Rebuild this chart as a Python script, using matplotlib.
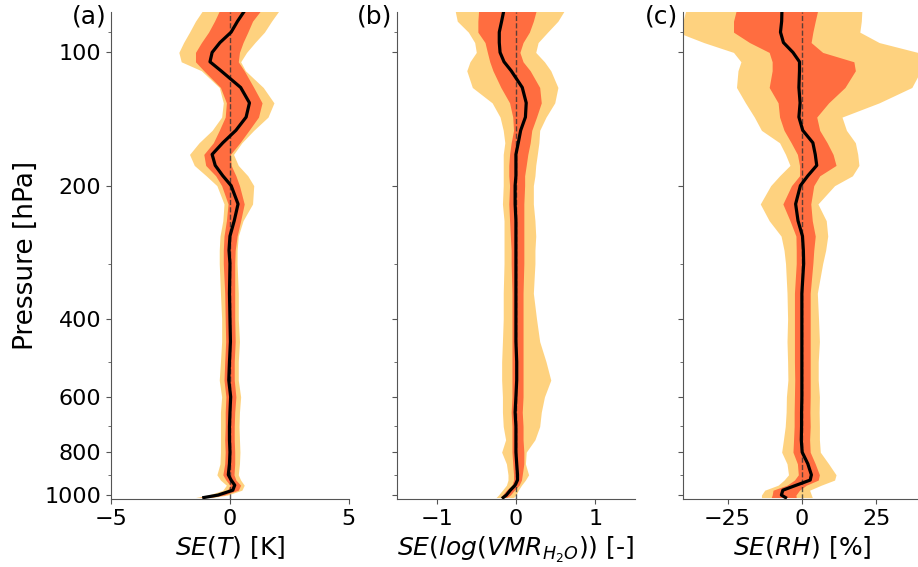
import numpy as np
import matplotlib
matplotlib.use('Agg')
import matplotlib.pyplot as plt
from matplotlib.ticker import NullFormatter

# pressure levels [hPa]
pressure = [80, 85, 90, 95, 100, 105, 110, 120, 130, 140,
            150, 160, 170, 180, 190, 200, 220, 240, 260, 280,
            300, 350, 400, 450, 500, 550, 600, 650, 700, 750,
            800, 850, 900, 925, 950, 975, 1000, 1013]

# (a) temperature [K]
t_mean = [0.65, 0.32, 0.05, -0.42, -0.75, -0.84, -0.38, 0.45, 0.82, 0.68,
          0.25, -0.30, -0.75, -0.62, -0.30, 0.05, 0.34, 0.18, 0.0, -0.04,
          0.0, -0.02, 0.0, 0.02, -0.02, -0.05, 0.03, 0.0, -0.02, -0.02,
          0.0, -0.02, -0.07, 0.05, 0.2, 0.12, -0.5, -1.1]
t_in_lo = [-0.42, -0.65, -0.9, -1.2, -1.45, -1.45, -1.1, -0.4, -0.15, -0.2,
           -0.45, -0.7, -1.1, -1.02, -0.6, -0.35, -0.08, -0.15, -0.25, -0.28,
           -0.28, -0.22, -0.2, -0.18, -0.22, -0.25, -0.17, -0.2, -0.2, -0.22,
           -0.2, -0.22, -0.3, -0.17, 0.0, -0.1, -0.7, -1.3]
t_in_hi = [1.33, 0.95, 0.75, 0.55, 0.4, 0.35, 0.6, 1.0, 1.35, 1.2,
           0.8, 0.42, 0.02, 0.05, 0.25, 0.4, 0.6, 0.45, 0.3, 0.22,
           0.2, 0.2, 0.2, 0.22, 0.18, 0.18, 0.25, 0.2, 0.18, 0.18,
           0.2, 0.2, 0.17, 0.25, 0.45, 0.35, -0.25, -0.9]
t_out_lo = [-1.12, -1.45, -1.7, -1.95, -2.15, -2.05, -1.2, -0.45, -0.28, -0.35,
            -0.75, -1.3, -1.7, -1.5, -1.0, -0.55, -0.25, -0.3, -0.42, -0.45,
            -0.45, -0.4, -0.35, -0.35, -0.4, -0.45, -0.35, -0.4, -0.4, -0.4,
            -0.4, -0.42, -0.55, -0.4, -0.15, -0.3, -0.9, -1.45]
t_out_hi = [2.1, 1.75, 1.45, 1.05, 0.7, 0.45, 0.65, 1.4, 1.85, 1.6,
            1.0, 0.5, 0.15, 0.35, 0.75, 1.0, 0.95, 0.55, 0.35, 0.3,
            0.3, 0.35, 0.35, 0.4, 0.35, 0.35, 0.45, 0.4, 0.38, 0.4,
            0.42, 0.4, 0.35, 0.45, 0.6, 0.5, -0.1, -0.75]

# (b) log water vapour VMR [-]
q_mean = [-0.15, -0.18, -0.21, -0.21, -0.2, -0.15, -0.06, 0.08, 0.13, 0.12,
          0.06, 0.03, 0.0, 0.0, 0.0, -0.01, -0.01, 0.0, 0.0, 0.0,
          0.0, 0.0, 0.0, 0.0, 0.01, 0.01, 0.0, -0.01, 0.0, 0.0,
          0.0, 0.01, 0.02, 0.02, -0.01, -0.07, -0.12, -0.16]
q_in_lo = [-0.47, -0.48, -0.48, -0.39, -0.36, -0.33, -0.29, -0.19, -0.08, -0.04,
           -0.03, -0.06, -0.08, -0.09, -0.09, -0.08, -0.09, -0.08, -0.07, -0.06,
           -0.06, -0.05, -0.05, -0.05, -0.05, -0.05, -0.05, -0.06, -0.05, -0.05,
           -0.05, -0.04, -0.03, -0.03, -0.05, -0.12, -0.17, -0.2]
q_in_hi = [0.26, 0.22, 0.17, 0.09, 0.05, 0.09, 0.18, 0.3, 0.32, 0.26,
           0.2, 0.18, 0.15, 0.13, 0.11, 0.11, 0.1, 0.1, 0.1, 0.1,
           0.1, 0.09, 0.09, 0.09, 0.09, 0.09, 0.09, 0.08, 0.09, 0.09,
           0.1, 0.1, 0.08, 0.07, 0.04, -0.02, -0.07, -0.12]
q_out_lo = [-0.77, -0.74, -0.6, -0.52, -0.5, -0.58, -0.62, -0.55, -0.3, -0.2,
            -0.16, -0.14, -0.16, -0.16, -0.16, -0.16, -0.17, -0.15, -0.15, -0.15,
            -0.15, -0.16, -0.16, -0.17, -0.18, -0.18, -0.17, -0.17, -0.16, -0.13,
            -0.18, -0.12, -0.1, -0.1, -0.12, -0.17, -0.22, -0.25]
q_out_hi = [0.62, 0.53, 0.4, 0.28, 0.25, 0.36, 0.44, 0.53, 0.49, 0.38,
            0.3, 0.29, 0.27, 0.25, 0.24, 0.22, 0.22, 0.24, 0.25, 0.24,
            0.24, 0.22, 0.26, 0.3, 0.38, 0.44, 0.36, 0.32, 0.3, 0.24,
            0.13, 0.12, 0.16, 0.12, 0.07, 0.03, 0.0, -0.03]

# (c) relative humidity [%]
rh_mean = [-6.7, -6.8, -7.2, -6.2, -3.0, -0.8, -0.8, -1.0, -0.6, -1.0,
           0.3, 3.7, 4.5, 5.0, 2.0, -0.5, -2.1, -1.3, 0.2, 0.5,
           0.6, 0.0, 0.0, 0.0, 0.0, 0.0, 0.0, -0.1, -0.1, -0.2,
           0.1, 2.0, 3.2, 2.8, -1.9, -6.4, -6.9, -5.5]
rh_in_lo = [-22, -23, -23, -17.6, -11, -10, -10, -11, -8, -7.5,
            -6, -3.6, -1.5, -0.8, -0.8, -3.5, -6.4, -4, -2, -1.9,
            -1.9, -2.5, -2.5, -2.5, -2.5, -2.4, -2.5, -2.6, -2.6, -2.8,
            -3, -1.5, -1.2, -2.5, -5, -9.7, -10, -10.3]
rh_in_hi = [5.4, 4.5, 3.7, 3.1, 7, 17.5, 18, 14.5, 9, 5,
            6, 8.5, 10.5, 11.5, 6, 4, 3, 3.5, 4.5, 4,
            3.7, 2.8, 2.8, 2.8, 2.8, 2.8, 2.8, 2.7, 2.8, 2.6,
            2.8, 4.5, 5.9, 5.5, 1.5, -0.8, -2, -1.9]
rh_out_lo = [-39, -40, -42, -33, -23, -20.5, -21.5, -22, -19, -16,
             -13.6, -7.5, -5.5, -4, -7.5, -10.5, -14, -11, -7, -6,
             -5.5, -5, -4.8, -5, -4.8, -4.7, -5.2, -5.3, -5.6, -6.2,
             -6.8, -5, -4.5, -6, -8, -12.5, -13.6, -13.6]
rh_out_hi = [20.2, 20, 19.5, 26, 39, 42, 40, 37, 26, 13.5,
             15, 18, 18.8, 19.2, 17, 11, 5.4, 8.2, 8.7, 8,
             7, 5.2, 5.6, 5.9, 5.5, 5.5, 5.9, 5.8, 5.9, 5.9,
             6.2, 9, 11.5, 11, 6.5, 2.6, 3.2, 3.5]

panels = [
    ('(a)', t_mean, t_in_lo, t_in_hi, t_out_lo, t_out_hi, (-5, 5), [-5, 0, 5],
     r'$SE(T)$ [K]'),
    ('(b)', q_mean, q_in_lo, q_in_hi, q_out_lo, q_out_hi, (-1.5, 1.5), [-1, 0, 1],
     r'$SE(log(VMR_{H_2O}))$ [-]'),
    ('(c)', rh_mean, rh_in_lo, rh_in_hi, rh_out_lo, rh_out_hi, (-40, 40), [-25, 0, 25],
     r'$SE(RH)$ [%]'),
]

outer_color = '#fed27f'
inner_color = '#ff6d40'
spine_color = '#555555'

fig = plt.figure(figsize=(9.18, 5.67), dpi=100)
lefts = [0.121, 0.4325, 0.744]

for i, (tag, mean, in_lo, in_hi, out_lo, out_hi, xlim, xt, xlab) in enumerate(panels):
    ax = fig.add_axes([lefts[i], 0.1195, 0.259, 0.8595])
    ax.fill_betweenx(pressure, out_lo, out_hi, color=outer_color, lw=0, zorder=1)
    ax.fill_betweenx(pressure, in_lo, in_hi, color=inner_color, lw=0, zorder=2)
    ax.axvline(0, color='#333333', lw=1, ls='--', alpha=0.8, zorder=3)
    ax.plot(mean, pressure, color='black', lw=2.3, zorder=4)

    ax.set_yscale('log')
    ax.set_ylim(1022, 81)
    ax.set_yticks([100, 200, 400, 600, 800, 1000])
    ax.set_yticks([90, 300, 500, 700, 900], minor=True)
    ax.yaxis.set_minor_formatter(NullFormatter())
    if i == 0:
        ax.set_yticklabels(['100', '200', '400', '600', '800', '1000'])
        ax.set_ylabel('Pressure [hPa]', fontsize=19)
    else:
        ax.set_yticklabels([])

    ax.set_xlim(*xlim)
    ax.set_xticks(xt)
    ax.set_xlabel(xlab, fontsize=18)
    ax.tick_params(axis='both', which='both', labelsize=16, color=spine_color)

    for s in ['top', 'right']:
        ax.spines[s].set_visible(False)
    for s in ['left', 'bottom']:
        ax.spines[s].set_color(spine_color)

    ax.text(-0.02, 0.99, tag, transform=ax.transAxes, ha='right', va='center',
            fontsize=18)

plt.savefig('out.png', dpi=100)
